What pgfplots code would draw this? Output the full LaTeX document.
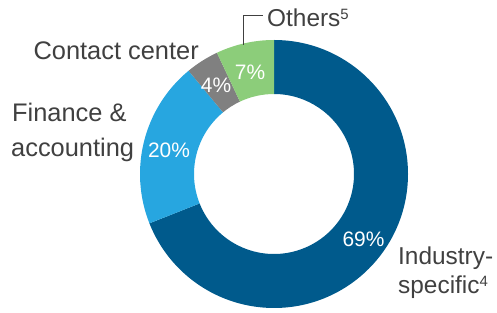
\documentclass[border=0pt]{standalone}
\usepackage{pgfplots}
\pgfplotsset{compat=1.18}
\usepackage{fontspec}
\setmainfont{Liberation Sans}
\definecolor{indblue}{RGB}{0,90,140}
\definecolor{finblue}{RGB}{39,166,224}
\definecolor{ccgray}{RGB}{128,128,128}
\definecolor{othgreen}{RGB}{140,205,122}
\definecolor{txtgray}{RGB}{64,64,64}
% shares (percent), clockwise from 12 o'clock
\def\vInd{69}\def\vFin{20}\def\vCon{4}\def\vOth{7}
\pgfmathsetmacro{\aA}{90}
\pgfmathsetmacro{\aB}{\aA-3.6*\vInd}
\pgfmathsetmacro{\aC}{\aB-3.6*\vFin}
\pgfmathsetmacro{\aD}{\aC-3.6*\vCon}
\pgfmathsetmacro{\aE}{\aD-3.6*\vOth}
\def\cx{274}\def\cy{139}\def\R{134}\def\r{80}
\newcommand{\seg}[3]{%
  \fill[#3] (axis cs:{\cx+\R*cos(#1)},{\cy+\R*sin(#1)})
    arc[start angle=#1, end angle=#2, radius=\R bp]
    -- (axis cs:{\cx+\r*cos(#2)},{\cy+\r*sin(#2)})
    arc[start angle=#2, end angle=#1, radius=\r bp] -- cycle;}
\newcommand{\fnsup}[1]{\raisebox{7bp}{\fontsize{15}{15}\selectfont #1}}
\begin{document}
\begin{tikzpicture}
\begin{axis}[
  hide axis, scale only axis, width=497bp, height=313bp,
  xmin=0, xmax=497, ymin=0, ymax=313, clip=false]
\seg{\aA}{\aB}{indblue}
\seg{\aB}{\aC}{finblue}
\seg{\aC}{\aD}{ccgray}
\seg{\aD}{\aE}{othgreen}
\draw[txtgray, line width=0.9bp] (axis cs:243,268) -- (axis cs:243,298) -- (axis cs:263,298);
\begin{scope}[every node/.style={inner sep=0pt, text=txtgray, font=\fontsize{24.5}{30}\selectfont}]
\node[anchor=base west] at (axis cs:267,286) {Others\fnsup{5}};
\node[anchor=base east, font=\fontsize{25.5}{30}\selectfont] at (axis cs:199,253) {Contact center};
\node[anchor=base west, font=\fontsize{25.5}{30}\selectfont] at (axis cs:12,191) {Finance \&};
\node[anchor=base west, font=\fontsize{25.5}{30}\selectfont] at (axis cs:11,156) {accounting};
\node[anchor=base west] at (axis cs:398,48) {Industry-};
\node[anchor=base west] at (axis cs:398,20) {specific\fnsup{4}};
\end{scope}
\begin{scope}[every node/.style={inner sep=0pt, text=white, font=\fontsize{21}{25}\selectfont}]
\node[anchor=base] at (axis cs:169,155) {20\%};
\node[anchor=base] at (axis cs:216,220) {4\%};
\node[anchor=base] at (axis cs:250,233) {7\%};
\node[anchor=base] at (axis cs:363.5,66) {69\%};
\end{scope}
\end{axis}
\pgfresetboundingbox
\path (current axis.south west) rectangle (current axis.north east);
\end{tikzpicture}
\end{document}
